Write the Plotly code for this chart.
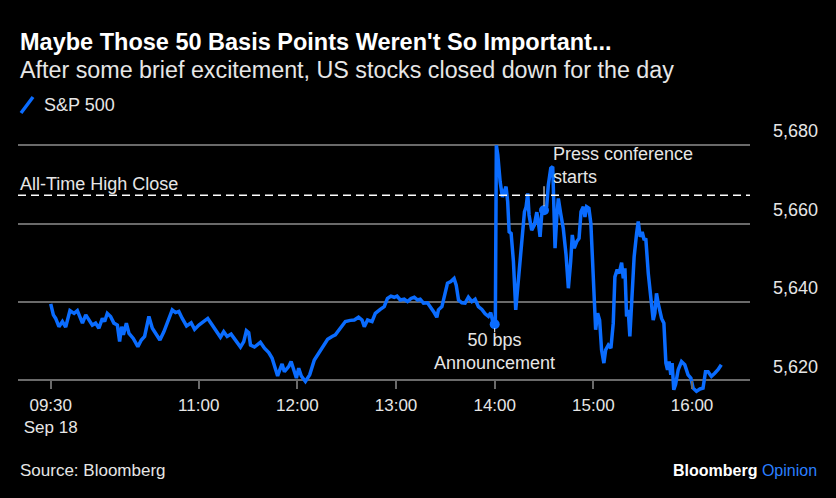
import plotly.graph_objects as go
import pandas as pd

# ---------------- data ----------------
TITLE = "Maybe Those 50 Basis Points Weren't So Important..."
SUBTITLE = "After some brief excitement, US stocks closed down for the day"
SERIES_NAME = "S&P 500"
SOURCE = "Source: Bloomberg"
SESSION_DATE = "2024-09-18"
OPEN_TIME = "09:30"

minutes_after_open = [
    0, 1.6, 3.0, 5.0, 7.1, 9.1, 11.7, 14.2, 16.2, 17.8,
    19.3, 21.3, 23.3, 25.3, 27.3, 29.3, 31.4, 32.8, 34.4, 36.4,
    38.4, 40.5, 41.9, 43.1, 44.2, 46.0, 47.6, 50.2, 53.0, 55.1,
    57.1, 59.7, 61.8, 63.8, 66.4, 68.8, 70.9, 73.9, 75.9, 77.9,
    80.0, 82.6, 85.4, 87.5, 90.1,
    93.1, 95.5, 98.2, 100.8, 103.2, 105.2, 107.3, 109.7, 112.4, 115.4,
    117.4, 119.0, 120.4, 121.5, 123.9, 127.5, 130.0, 132.6, 134.6, 136.6,
    138.0, 139.3, 140.7, 142.1, 144.7, 146.2, 147.8, 149.4, 150.8, 152.4,
    154.9, 157.5, 160.3, 162.9, 166.0, 168.4, 171.1, 173.1, 176.1, 179.2,
    182.2, 184.6, 187.2, 189.3, 190.7, 192.7, 195.4, 197.4, 200.4, 202.8,
    204.8, 206.9, 208.9, 210.6, 212.6, 215.0, 217.0, 219.1, 221.1, 223.1,
    224.7, 226.7, 229.1, 231.2, 233.2, 234.8, 235.8, 237.9, 239.9, 241.3,
    243.3, 245.3, 246.6, 248.0, 250.0, 252.0, 254.0, 256.1, 258.1, 260.1,
    262.2, 264.2, 266.2, 267.6, 268.8, 270.0,
    270.4, 271.0, 271.9, 273.3, 274.7, 275.9, 276.9, 277.9, 278.8, 280.0,
    281.4, 282.8, 284.4, 286.5, 288.1, 289.1, 290.1, 290.9, 292.5, 294.1,
    295.6, 296.5, 297.6, 298.6, 300.0, 301.6, 302.6, 304.1, 305.3, 306.7,
    307.7, 308.7, 310.1, 311.7, 313.4, 314.8, 316.2, 317.2, 318.4, 319.9,
    321.3, 322.5, 323.9, 324.9, 325.9, 327.3, 328.5, 329.9,
    331.4, 332.6, 333.8, 335.0, 336.4, 337.5, 339.1, 340.7, 342.1, 343.1,
    344.5, 345.7, 347.2, 348.2, 349.2, 350.2, 351.2, 352.2, 353.6, 354.8,
    356.3, 357.3, 358.5, 359.7, 360.9, 361.9, 363.4, 365.0, 366.4, 367.4,
    368.4, 369.4, 370.5, 371.5, 372.9, 374.1, 375.1, 376.1, 377.1, 377.9,
    378.9, 380.0, 381.6, 383.6, 385.6, 387.6, 389.3, 390.7, 392.7, 394.8,
    396.7, 398.2, 399.8, 401.8, 403.8, 405.8, 407.8,
]

sp500 = [
    5639.5, 5636.7, 5635.8, 5633.7, 5635.0, 5633.6, 5637.8, 5637.1, 5637.8, 5635.8,
    5634.6, 5636.7, 5635.4, 5634.1, 5634.6, 5633.3, 5635.8, 5635.0, 5637.1, 5636.3,
    5634.6, 5634.1, 5629.9, 5633.7, 5631.6, 5634.6, 5632.0, 5630.7, 5628.6, 5630.3,
    5631.2, 5636.3, 5633.3, 5632.0, 5630.3, 5632.4, 5634.6, 5638.0, 5637.3, 5637.6,
    5635.8, 5633.9, 5634.7, 5633.0, 5634.1,
    5635.0, 5635.8, 5634.1, 5632.4, 5631.0, 5632.4, 5631.2, 5631.8, 5630.1, 5628.5,
    5629.9, 5632.7, 5632.2, 5629.0, 5628.5, 5629.7, 5628.2, 5627.1, 5625.7, 5623.1,
    5621.1, 5622.7, 5624.2, 5622.2, 5623.5, 5624.8, 5622.7, 5620.6, 5623.1, 5621.1,
    5619.7, 5621.4, 5625.2, 5626.9, 5629.0, 5630.5, 5631.2, 5631.6, 5633.3, 5635.0,
    5635.3, 5635.4, 5636.1, 5635.4, 5633.7, 5635.4, 5635.0, 5637.1, 5638.1, 5638.8,
    5640.9, 5641.5, 5641.2, 5641.5, 5640.5, 5640.7, 5640.1, 5640.9, 5641.2, 5640.5,
    5640.7, 5639.7, 5639.8, 5638.6, 5637.3, 5636.1, 5638.0, 5638.8, 5642.2, 5644.8,
    5645.2, 5646.0, 5644.3, 5640.5, 5639.8, 5639.7, 5641.2, 5640.1, 5640.7, 5638.8,
    5638.1, 5637.0, 5636.3, 5637.3, 5635.0, 5634.3,
    5635.0, 5680.0, 5677.5, 5670.7, 5666.8, 5668.5, 5669.4, 5665.6, 5657.9, 5657.5,
    5650.3, 5638.0, 5646.0, 5657.1, 5663.0, 5664.3, 5667.7, 5662.2, 5658.3, 5659.6,
    5662.9, 5660.5, 5656.6, 5662.3, 5663.4, 5664.3, 5669.8, 5674.1, 5674.5, 5653.7,
    5661.3, 5666.4, 5662.6, 5658.8, 5652.0, 5643.5, 5650.3, 5657.1, 5653.7, 5655.4,
    5656.2, 5663.0, 5664.3, 5661.7, 5664.3, 5663.9, 5660.0, 5647.3,
    5632.9, 5637.1, 5635.4, 5627.8, 5624.4, 5627.8, 5629.0, 5628.2, 5634.6, 5646.4,
    5648.3, 5647.3, 5650.0, 5646.0, 5648.6, 5636.3, 5638.0, 5631.2, 5641.4, 5651.5,
    5657.5, 5660.5, 5656.6, 5657.9, 5655.8, 5656.2, 5647.3, 5639.7, 5635.4, 5637.1,
    5642.2, 5639.7, 5637.1, 5635.8, 5634.6, 5624.4, 5622.7, 5624.8, 5621.4, 5624.4,
    5617.6, 5618.9, 5622.7, 5624.8, 5624.0, 5621.4, 5620.6, 5618.0, 5617.2, 5617.8,
    5618.0, 5622.2, 5622.2, 5621.0, 5621.8, 5622.7, 5624.0,
]

ath_close = 5667.2
ath_label = "All-Time High Close"
event_minutes = [270.0, 300.0]
event_labels = ["50 bps<br>Announcement", "Press conference<br>starts"]

y_tickvals = [5620, 5640, 5660, 5680]
y_ticktext = ["5,620", "5,640", "5,660", "5,680"]
x_tick_times = ["09:30", "11:00", "12:00", "13:00", "14:00", "15:00", "16:00"]
x_tick_text = ["09:30<br>Sep 18", "11:00", "12:00", "13:00", "14:00", "15:00", "16:00"]
x_range_times = ["09:10:06", "16:35:16"]
y_range = [5615.5, 5683.1]

# ---------------- style ----------------
BLUE = "#0a6cff"
BG = "#000000"
GRID = "#6a6a6a"
TXT = "#e6e6e6"
FONT = "Liberation Sans, Arial, sans-serif"

W, H = 836, 498
L, R, T, B = 18, 86, 133, 100
PW, PH = W - L - R, H - T - B


def px(xp):
    return (xp - L) / PW


def py(yp):
    return (H - B - yp) / PH


base = pd.Timestamp(f"{SESSION_DATE} {OPEN_TIME}")
times = base + pd.to_timedelta(minutes_after_open, unit="min")
ev_times = [base + pd.to_timedelta(m, unit="min") for m in event_minutes]
ev_vals = [sp500[minutes_after_open.index(m)] for m in event_minutes]
tickvals = [pd.Timestamp(f"{SESSION_DATE} {t}") for t in x_tick_times]
xr = [pd.Timestamp(f"{SESSION_DATE} {t}") for t in x_range_times]

fig = go.Figure()
fig.add_trace(go.Scatter(
    x=times, y=sp500, mode="lines", name=SERIES_NAME,
    line=dict(color=BLUE, width=3.5), showlegend=False,
))
fig.add_trace(go.Scatter(
    x=ev_times, y=ev_vals, mode="markers",
    marker=dict(color=BLUE, size=10), showlegend=False, cliponaxis=False,
))

shapes = [
    dict(type="line", xref="paper", x0=0, x1=1, yref="y", y0=ath_close, y1=ath_close,
         line=dict(color="#ffffff", width=1.5, dash="8px,5px")),
    dict(type="line", xref="paper", yref="paper",
         x0=px(21), x1=px(33), y0=py(113), y1=py(97),
         line=dict(color=BLUE, width=3.5)),
    dict(type="line", xref="x", x0=ev_times[0], x1=ev_times[0],
         yref="y", ysizemode="pixel", yanchor=ev_vals[0], y0=-4, y1=-8,
         line=dict(color="#ffffff", width=1)),
    dict(type="line", xref="x", x0=ev_times[1], x1=ev_times[1],
         yref="y", ysizemode="pixel", yanchor=ev_vals[1], y0=4, y1=24,
         line=dict(color="#ffffff", width=1)),
]

annotations = [
    dict(text=f"<b>{TITLE}</b>", xref="paper", yref="paper", x=px(18), y=py(42),
         xanchor="left", yanchor="middle", showarrow=False,
         font=dict(family=FONT, size=23.5, color="#ffffff")),
    dict(text=SUBTITLE, xref="paper", yref="paper", x=px(18), y=py(70),
         xanchor="left", yanchor="middle", showarrow=False,
         font=dict(family=FONT, size=23.3, color=TXT)),
    dict(text=SERIES_NAME, xref="paper", yref="paper", x=px(42), y=py(105),
         xanchor="left", yanchor="middle", showarrow=False,
         font=dict(family=FONT, size=18, color=TXT)),
    dict(text=ath_label, xref="paper", yref="y", x=0, y=ath_close,
         xanchor="left", yanchor="bottom", yshift=-1, showarrow=False,
         font=dict(family=FONT, size=18, color=TXT)),
    dict(text=event_labels[0], xref="x", yref="y", x=ev_times[0], y=ev_vals[0],
         xanchor="center", yanchor="top", yshift=-4, showarrow=False, align="center",
         font=dict(family=FONT, size=18, color=TXT)),
    dict(text=event_labels[1], xref="x", yref="y", x=ev_times[1], y=ev_vals[1],
         xanchor="left", yanchor="bottom", xshift=7, yshift=21, showarrow=False, align="left",
         font=dict(family=FONT, size=18, color=TXT)),
    dict(text=SOURCE, xref="paper", yref="paper", x=px(18), y=py(470),
         xanchor="left", yanchor="middle", showarrow=False,
         font=dict(family=FONT, size=17, color=TXT)),
    dict(text="<b>Bloomberg</b> <span style='color:#2a7fff'>Opinion</span>",
         xref="paper", yref="paper", x=px(819), y=py(470),
         xanchor="right", yanchor="middle", showarrow=False,
         font=dict(family=FONT, size=16, color="#ffffff")),
]

fig.update_layout(
    width=W, height=H,
    margin=dict(l=L, r=R, t=T, b=B, pad=0),
    paper_bgcolor=BG, plot_bgcolor=BG,
    font=dict(family=FONT, color=TXT),
    showlegend=False,
    shapes=shapes, annotations=annotations,
    xaxis=dict(
        type="date", range=xr, showgrid=False, zeroline=False, showline=False,
        tickvals=tickvals, ticktext=x_tick_text,
        ticks="outside", ticklen=8, tickwidth=1.5, tickcolor=GRID,
        ticklabelstandoff=1,
        anchor="free", position=(5620 - y_range[0]) / (y_range[1] - y_range[0]),
        tickfont=dict(family=FONT, size=17, color=TXT),
    ),
    yaxis=dict(
        range=y_range, side="right", showgrid=True, gridcolor=GRID, gridwidth=1.5,
        zeroline=False, showline=False, ticks="",
        tickvals=y_tickvals, ticktext=y_ticktext,
        ticklabelstandoff=22, ticklabelshift=-14,
        tickfont=dict(family=FONT, size=18, color=TXT),
    ),
)

fig.write_html(
    "out.html",
    config={"displayModeBar": False},
    post_script="document.body.style.margin='0';document.body.style.background='#000';",
)
